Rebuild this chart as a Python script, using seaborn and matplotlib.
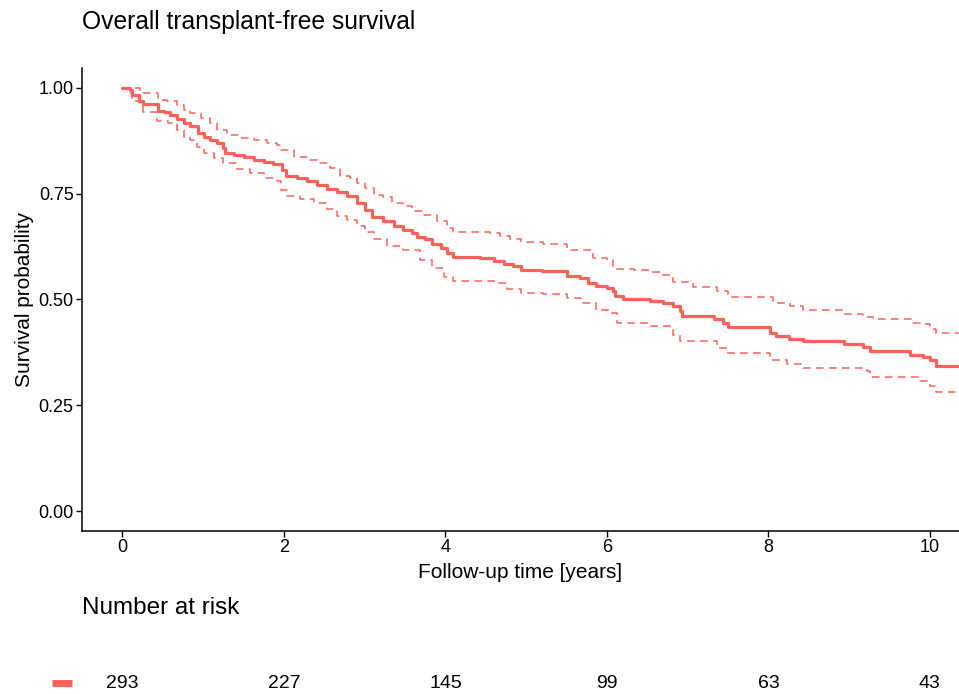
import matplotlib
matplotlib.use("Agg")
from matplotlib import pyplot as plt
import seaborn as sb
import pandas as pd

# Kaplan-Meier estimate (step times in years, survival after each step)
surv_time = [0, 0.10, 0.12, 0.20, 0.26, 0.44, 0.51, 0.59, 0.68, 0.76, 0.84, 0.94, 1.01, 1.09, 1.17,
             1.25, 1.27, 1.38, 1.50, 1.63, 1.75, 1.87, 1.98, 2.02, 2.16, 2.29, 2.41, 2.53, 2.66, 2.78,
             2.90, 3.01, 3.09, 3.23, 3.36, 3.48, 3.59, 3.65, 3.75, 3.83, 3.94, 4.02, 4.10, 4.43, 4.60,
             4.72, 4.84, 4.93, 5.20, 5.50, 5.67, 5.77, 5.87, 6.00, 6.08, 6.10, 6.20, 6.53, 6.70, 6.82,
             6.91, 6.93, 7.32, 7.44, 7.50, 8.02, 8.10, 8.25, 8.43, 8.93, 9.17, 9.26, 9.75, 9.92, 10.00,
             10.08, 10.40]
surv_est = [1.000, 0.994, 0.983, 0.970, 0.963, 0.946, 0.942, 0.936, 0.926, 0.917, 0.909, 0.893, 0.885,
            0.877, 0.870, 0.858, 0.847, 0.842, 0.837, 0.830, 0.825, 0.821, 0.807, 0.792, 0.786, 0.779,
            0.771, 0.761, 0.753, 0.744, 0.728, 0.712, 0.695, 0.685, 0.673, 0.665, 0.657, 0.648, 0.642,
            0.630, 0.622, 0.610, 0.600, 0.597, 0.592, 0.585, 0.579, 0.570, 0.567, 0.555, 0.551, 0.540,
            0.533, 0.527, 0.519, 0.508, 0.502, 0.497, 0.491, 0.484, 0.472, 0.461, 0.453, 0.445, 0.436,
            0.421, 0.413, 0.407, 0.402, 0.394, 0.388, 0.378, 0.370, 0.365, 0.357, 0.344, 0.344]

upper_time = [0, 0.22, 0.44, 0.55, 0.68, 0.76, 0.84, 0.97, 1.09, 1.17, 1.30, 1.46, 1.63, 1.79, 1.91,
              1.96, 2.12, 2.29, 2.45, 2.57, 2.70, 2.82, 2.90, 3.01, 3.11, 3.23, 3.34, 3.48, 3.59, 3.73,
              3.89, 4.02, 4.10, 4.55, 4.68, 4.80, 4.93, 5.21, 5.50, 5.67, 5.83, 6.00, 6.08, 6.33, 6.53,
              6.66, 6.82, 7.07, 7.36, 7.50, 8.06, 8.27, 8.43, 8.95, 9.17, 9.30, 9.79, 9.92, 10.00, 10.08,
              10.40]
upper_ci = [1.000, 0.987, 0.972, 0.968, 0.960, 0.948, 0.940, 0.928, 0.917, 0.901, 0.889, 0.881, 0.876,
            0.870, 0.866, 0.854, 0.837, 0.830, 0.822, 0.811, 0.792, 0.787, 0.775, 0.763, 0.748, 0.742,
            0.728, 0.722, 0.708, 0.700, 0.685, 0.669, 0.660, 0.656, 0.649, 0.643, 0.635, 0.632, 0.618,
            0.616, 0.598, 0.593, 0.572, 0.569, 0.565, 0.559, 0.541, 0.530, 0.520, 0.506, 0.492, 0.484,
            0.476, 0.465, 0.459, 0.453, 0.445, 0.441, 0.431, 0.421, 0.421]

lower_time = [0, 0.10, 0.12, 0.26, 0.43, 0.57, 0.68, 0.76, 0.84, 0.92, 1.01, 1.13, 1.25, 1.42, 1.58,
              1.75, 1.91, 1.96, 2.04, 2.20, 2.37, 2.53, 2.66, 2.78, 2.90, 3.01, 3.11, 3.28, 3.48, 3.69,
              3.83, 3.98, 4.10, 4.60, 4.76, 4.93, 5.21, 5.50, 5.71, 5.87, 6.04, 6.12, 6.53, 6.82, 6.91,
              7.36, 7.48, 8.02, 8.23, 8.43, 9.22, 9.26, 9.88, 10.00, 10.08, 10.40]
lower_ci = [1.000, 0.987, 0.970, 0.944, 0.921, 0.917, 0.901, 0.885, 0.876, 0.860, 0.846, 0.834, 0.822,
            0.808, 0.800, 0.787, 0.779, 0.759, 0.745, 0.737, 0.728, 0.714, 0.698, 0.689, 0.673, 0.660,
            0.642, 0.626, 0.616, 0.594, 0.575, 0.553, 0.543, 0.538, 0.525, 0.516, 0.512, 0.504, 0.492,
            0.476, 0.469, 0.445, 0.437, 0.417, 0.402, 0.386, 0.374, 0.358, 0.347, 0.339, 0.331, 0.318,
            0.307, 0.296, 0.281, 0.281]

# number at risk table
risk_time = [0, 2, 4, 6, 8, 10]
n_risk = [293, 227, 145, 99, 63, 43]

col = '#FB6259'

sb.set_style('ticks')
plt.rcParams['font.family'] = ['Liberation Sans', 'DejaVu Sans']
plt.rcParams['text.color'] = 'black'
plt.rcParams['axes.labelcolor'] = 'black'

fig = plt.figure(figsize=(9.59, 6.94), dpi=100)
ax = fig.add_axes([82 / 959, 1 - 531 / 694, 1 - 82 / 959, (531 - 68) / 694])

df_est = pd.DataFrame({'time': surv_time, 'surv': surv_est})
df_up = pd.DataFrame({'time': upper_time, 'surv': upper_ci})
df_lo = pd.DataFrame({'time': lower_time, 'surv': lower_ci})

sb.lineplot(data=df_up, x='time', y='surv', ax=ax, color=col, lw=1.1, drawstyle='steps-post',
            estimator=None, linestyle=(0, (5, 3.5)))
sb.lineplot(data=df_lo, x='time', y='surv', ax=ax, color=col, lw=1.1, drawstyle='steps-post',
            estimator=None, linestyle=(0, (5, 3.5)))
sb.lineplot(data=df_est, x='time', y='surv', ax=ax, color=col, lw=2.3, drawstyle='steps-post',
            estimator=None)

ax.set_xlim(-0.5, 10.36)
ax.set_ylim(-0.047, 1.047)
ax.set_xticks([0, 2, 4, 6, 8, 10])
ax.set_yticks([0, 0.25, 0.5, 0.75, 1.0])
ax.set_yticklabels(['0.00', '0.25', '0.50', '0.75', '1.00'])
for s in ['top', 'right']:
    ax.spines[s].set_visible(False)
for s in ['left', 'bottom']:
    ax.spines[s].set_linewidth(1.1)
    ax.spines[s].set_color('black')
ax.tick_params(axis='both', length=4, width=1.0, color='black', labelsize=13, labelcolor='black', pad=2)
ax.set_xlabel('Follow-up time [years]', fontsize=15, labelpad=5)
ax.set_ylabel('Survival probability', fontsize=15, labelpad=3)
ax.set_title('Overall transplant-free survival', fontsize=17.7, loc='left', x=0, pad=28)

# risk table
fig.text(82 / 959, 1 - 608 / 694, 'Number at risk', fontsize=17.5, va='center', ha='left')
ax2 = fig.add_axes([82 / 959, 0, 1 - 82 / 959, 22 / 694])
ax2.set_xlim(-0.5, 10.36)
ax2.set_ylim(0, 1)
ax2.axis('off')
for t, n in zip(risk_time, n_risk):
    ax2.text(t, 0.5, str(n), ha='center', va='center', fontsize=14)
ax2.plot([-0.87, -0.62], [0.5, 0.5], color=col, lw=5, solid_capstyle='butt', clip_on=False)

plt.savefig('out.png', dpi=100)
